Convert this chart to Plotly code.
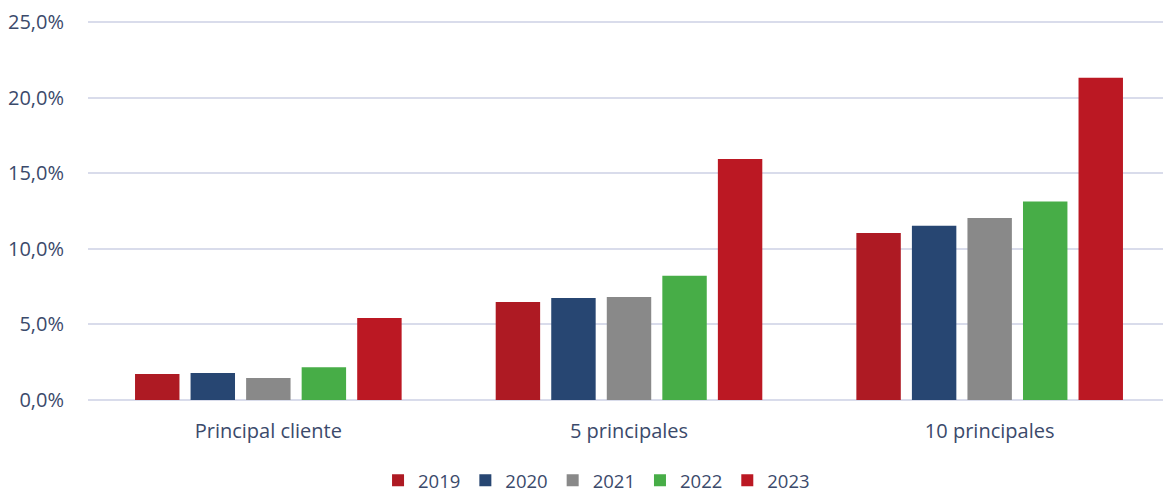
import plotly.graph_objects as go

categories = ["Principal cliente", "5 principales", "10 principales"]
years = ["2019", "2020", "2021", "2022", "2023"]
v2019 = [1.72, 6.49, 11.04]
v2020 = [1.79, 6.75, 11.52]
v2021 = [1.46, 6.82, 12.03]
v2022 = [2.17, 8.21, 13.13]
v2023 = [5.43, 15.94, 21.32]
colors = ["#AE1A23", "#274672", "#898989", "#47AD47", "#BB1823"]
y_ticks = [0, 5, 10, 15, 20, 25]
y_tick_labels = ["0,0%", "5,0%", "10,0%", "15,0%", "20,0%", "25,0%"]

series = [v2019, v2020, v2021, v2022, v2023]

fig = go.Figure()
for name, vals, col in zip(years, series, colors):
    fig.add_trace(go.Bar(x=categories, y=vals, name=name,
                         marker=dict(color=col, line=dict(width=0))))

font_color = "#3B4A6B"
fig.update_layout(
    width=1163, height=487,
    margin=dict(l=80, r=1, t=11, b=95, autoexpand=False),
    paper_bgcolor="white", plot_bgcolor="white",
    barmode="group", bargap=0.23, bargroupgap=0.2,
    font=dict(family="Open Sans", size=20, color=font_color),
    showlegend=True,
    legend=dict(orientation="h", x=0.47, xanchor="center", y=-0.212, yanchor="middle",
                font=dict(size=18.5, color=font_color), itemwidth=30,
                traceorder="normal"),
    xaxis=dict(showgrid=False, showline=False, ticks="", ticklabelstandoff=17,
               automargin=False, tickfont=dict(size=20, color=font_color)),
    yaxis=dict(range=[0, 25.2], tickvals=y_ticks, ticktext=y_tick_labels,
               showgrid=True, gridcolor="#D9DCEB", gridwidth=1.5,
               zeroline=True, zerolinecolor="#D9DCEB", zerolinewidth=1.5,
               showline=False, ticks="", ticklabelstandoff=23, automargin=False,
               tickfont=dict(size=20, color=font_color)),
)
fig.write_html("out.html")
